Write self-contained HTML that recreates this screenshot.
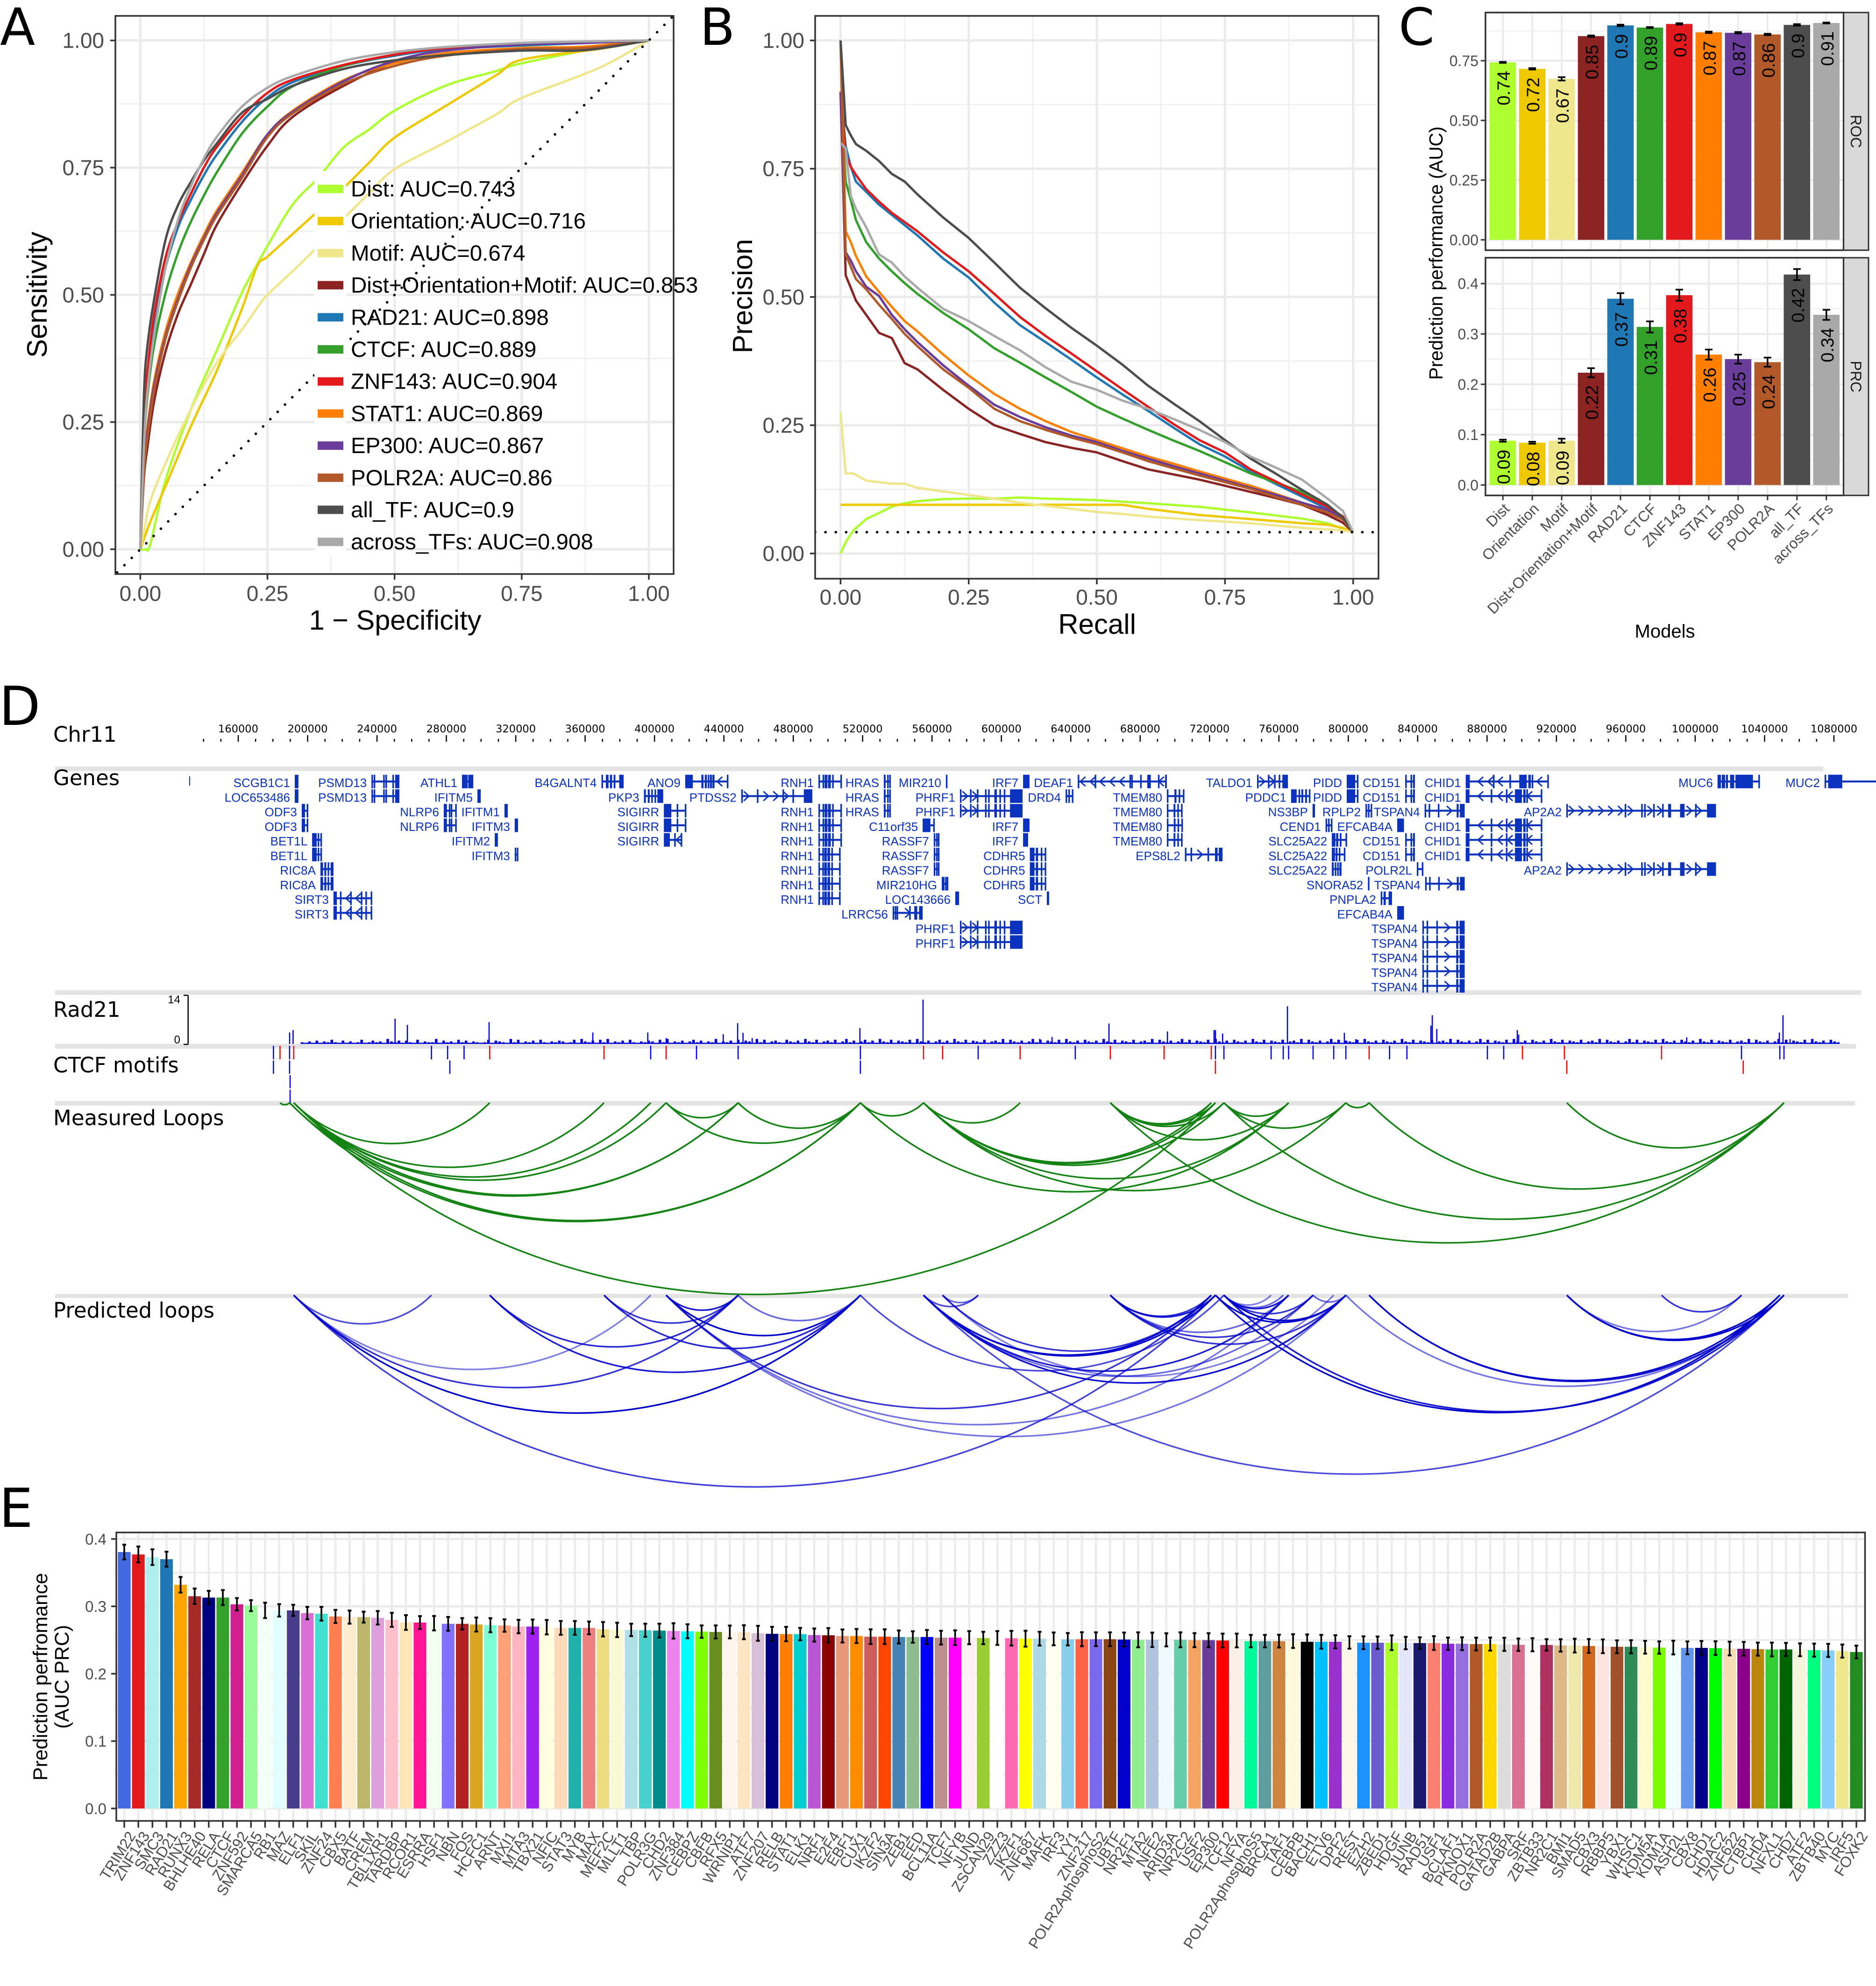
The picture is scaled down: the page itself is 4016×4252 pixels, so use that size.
<!DOCTYPE html>
<html lang="en">
<head>
<meta charset="utf-8">
<title>Chromatin loop prediction performance figure</title>
<style>
html,body{margin:0;padding:0;background:#fff}
svg{display:block}
text{font-family:"Liberation Sans",sans-serif}
.dj{font-family:"DejaVu Sans",sans-serif}
</style>
</head>
<body>
<svg id="fig" xmlns="http://www.w3.org/2000/svg" width="4016" height="4252" viewBox="0 0 4016 4252">
<defs>
<clipPath id="clipA"><rect x="247" y="34" width="1195" height="1195"/></clipPath>
<clipPath id="clipB"><rect x="1745" y="34" width="1206" height="1205"/></clipPath>
</defs>
<rect x="0" y="0" width="4016" height="4252" fill="#fff"/>
<g id="panelA"></g>
<g id="panelB"></g>
<g id="panelC"></g>
<g id="panelD"></g>
<g id="panelE"></g>
<text class="dj" x="0" y="96" font-size="110">A</text>
<text class="dj" x="1498" y="96" font-size="110">B</text>
<text class="dj" x="2994" y="96" font-size="110">C</text>
<text class="dj" x="-2" y="1552" font-size="115">D</text>
<text class="dj" x="-2" y="3269" font-size="115">E</text>
</svg>
<script>
/* ===== shared model data ===== */
const modelNames = ["Dist","Orientation","Motif","Dist+Orientation+Motif","RAD21","CTCF","ZNF143","STAT1","EP300","POLR2A","all_TF","across_TFs"];
const modelColors = ["#ADFF2F","#EEC900","#F0E68C","#8B2323","#1F78B4","#33A02C","#E31A1C","#FF7F00","#6A3D9A","#B15928","#4D4D4D","#A9A9A9"];
const rocAuc = ["0.743","0.716","0.674","0.853","0.898","0.889","0.904","0.869","0.867","0.86","0.9","0.908"];
const axisTicks = [0,0.25,0.5,0.75,1];
const axisMinorTicks = [0.125,0.375,0.625,0.875];

/* ===== Panel A: ROC ===== */
const rocFprBase = [0,.01,.02,.05,.1,.15,.2,.23,.25,.3,.35,.4,.45,.5,.6,.7,.75,.9,1];
const rocFprTf = [0,.007,.014,.027,.05,.075,.1,.125,.15,.2,.25,.3,.4,.5,.6,.75,.875,1];
const rocDist = [0,0,.011,.137,.276,.39,.505,.56,.596,.678,.73,.79,.825,.862,.911,.94,.955,.985,1];
const rocOrientation = [0,.028,.055,.125,.243,.35,.473,.557,.575,.62,.665,.71,.76,.809,.871,.932,.962,.983,1];
const rocMotif = [0,.05,.096,.17,.276,.366,.432,.475,.50,.547,.596,.65,.70,.747,.80,.855,.887,.945,1];
const rocCombined = [0,.14,.2,.29,.39,.465,.522,.58,.637,.719,.793,.85,.911,.956,.972,.983,.985,1];
const rocRad21 = [0,.22,.33,.44,.555,.635,.688,.735,.775,.84,.888,.918,.95,.97,.983,.99,.995,1];
const rocCtcf = [0,.2,.3,.4,.505,.585,.645,.695,.74,.817,.87,.91,.95,.972,.985,.992,.996,1];
const rocZnf143 = [0,.25,.35,.46,.575,.645,.7,.75,.79,.85,.897,.923,.952,.972,.985,.993,.996,1];
const rocStat1 = [0,.16,.24,.33,.43,.505,.565,.618,.665,.74,.815,.862,.922,.955,.975,.985,.988,1];
const rocEp300 = [0,.16,.23,.32,.42,.495,.56,.612,.66,.735,.815,.86,.92,.96,.98,.992,.995,1];
const rocPolr2a = [0,.15,.22,.31,.415,.49,.555,.608,.655,.73,.81,.857,.915,.95,.97,.983,.985,1];
const rocAllTf = [0,.30,.4,.49,.61,.678,.723,.764,.797,.858,.885,.911,.944,.961,.971,.98,.981,1];
const rocAcross = [0,.2,.31,.42,.555,.65,.715,.768,.81,.87,.907,.93,.96,.977,.987,.995,.998,1];
const rocSeries = [[rocFprBase,rocDist],[rocFprBase,rocOrientation],[rocFprBase,rocMotif],[rocFprTf,rocCombined],[rocFprTf,rocRad21],[rocFprTf,rocCtcf],[rocFprTf,rocZnf143],[rocFprTf,rocStat1],[rocFprTf,rocEp300],[rocFprTf,rocPolr2a],[rocFprTf,rocAllTf],[rocFprTf,rocAcross]];

/* ===== Panel B: precision-recall ===== */
const prRecallBase = [0,.01,.025,.05,.1,.125,.15,.2,.25,.3,.35,.4,.5,.55,.6,.7,.8,.9,.95,.98,1];
const prRecallTf = [0,.01,.02,.03,.05,.075,.1,.125,.15,.2,.25,.3,.35,.4,.45,.5,.55,.6,.65,.7,.75,.8,.85,.9,.95,.98,1];
const prDist = [0,.022,.045,.067,.091,.098,.102,.106,.107,.107,.109,.107,.104,.101,.098,.091,.08,.068,.059,.048,.0415];
const prOrientation = [.095,.095,.095,.095,.095,.095,.095,.095,.095,.095,.095,.095,.095,.095,.087,.075,.067,.059,.056,.05,.0415];
const prMotif = [.275,.156,.156,.142,.136,.136,.128,.121,.114,.107,.099,.093,.081,.077,.072,.065,.059,.05,.047,.045,.0415];
const prCombined = [.9,.542,.518,.493,.465,.43,.42,.371,.359,.319,.282,.25,.233,.217,.206,.197,.18,.164,.154,.144,.132,.12,.108,.095,.075,.06,.0415];
const prRad21 = [.9,.794,.754,.725,.705,.68,.66,.64,.62,.575,.538,.489,.445,.412,.378,.343,.31,.278,.245,.213,.189,.16,.135,.111,.087,.07,.0415];
const prCtcf = [.9,.725,.689,.65,.607,.575,.55,.527,.506,.469,.437,.40,.372,.343,.315,.286,.263,.241,.22,.20,.178,.156,.138,.12,.091,.07,.0415];
const prZnf143 = [.9,.778,.754,.738,.71,.686,.664,.646,.628,.587,.55,.506,.461,.424,.39,.355,.32,.286,.252,.221,.197,.164,.14,.115,.091,.072,.0415];
const prStat1 = [1,.628,.607,.58,.54,.51,.481,.453,.433,.388,.347,.311,.282,.258,.237,.221,.205,.189,.175,.16,.146,.132,.116,.099,.083,.068,.0415];
const prEp300 = [.9,.587,.571,.55,.52,.502,.465,.437,.412,.367,.327,.29,.266,.246,.23,.217,.2,.185,.17,.156,.142,.128,.114,.099,.085,.068,.0415];
const prPolr2a = [1,.583,.559,.535,.515,.485,.457,.428,.404,.359,.323,.282,.258,.241,.226,.213,.197,.18,.166,.152,.139,.126,.11,.095,.08,.066,.0415];
const prAllTf = [1,.835,.815,.798,.785,.765,.74,.725,.70,.655,.615,.567,.518,.478,.44,.405,.368,.327,.292,.258,.221,.185,.155,.124,.095,.07,.0415];
const prAcross = [.8,.79,.697,.672,.636,.583,.567,.54,.518,.477,.453,.424,.396,.363,.335,.319,.298,.282,.262,.241,.217,.189,.167,.144,.107,.083,.0415];
const prSeries = [[prRecallBase,prDist],[prRecallBase,prOrientation],[prRecallBase,prMotif],[prRecallTf,prCombined],[prRecallTf,prRad21],[prRecallTf,prCtcf],[prRecallTf,prZnf143],[prRecallTf,prStat1],[prRecallTf,prEp300],[prRecallTf,prPolr2a],[prRecallTf,prAllTf],[prRecallTf,prAcross]];
const prBaseline = 0.0415;

/* ===== Panel C ===== */
const cRocValues = [.743,.716,.674,.853,.898,.889,.904,.869,.867,.86,.9,.908];
const cRocErrors = [.002,.003,.007,.003,.003,.002,.003,.003,.003,.003,.003,.002];
const cPrcValues = [.088,.084,.088,.223,.37,.314,.377,.259,.25,.244,.418,.338];
const cPrcErrors = [.002,.002,.004,.009,.011,.011,.011,.01,.009,.009,.011,.01];
const cRocTicks = [0,.25,.5,.75];
const cRocMinor = [.125,.375,.625,.875];
const cPrcTicks = [0,.1,.2,.3,.4];
const cPrcMinor = [.05,.15,.25,.35];

/* ===== Panel E ===== */
const tfNames = ["TRIM22","ZNF143","SMC3","RAD21","RUNX3","BHLHE40","RELA","CTCF","ZNF592","SMARCA5","RB1","MAZ","ELF1","SKIL","ZNF24","CBX5","BATF","CREM","TBL1XR1","TARDBP","RCOR1","ESRRA","HSF1","NBN","FOS","HCFC1","ARNT","MXI1","MTA3","TBX21","NFIC","STAT3","MYB","MAX","MEF2C","MLLT1","TBP","POLR3G","CHD2","ZNF384","CEBPZ","CBFB","RFX5","WRNIP1","ATF7","ZNF207","RELB","STAT1","ELK1","NRF1","E2F4","EBF1","CUX1","IKZF2","SIN3A","ZEB1","EED","BCL11A","TCF7","NFYB","JUND","ZSCAN29","ZZZ3","IKZF1","ZNF687","MAFK","IRF3","YY1","ZNF217","POLR2AphosphoS2","UBTF","NR2F1","MTA2","NFE2","ARID3A","NR2C2","USF2","EP300","TCF12","NFYA","POLR2AphosphoS5","BRCA1","TAF1","CEBPB","BACH1","ETV6","DPF2","REST","EZH2","ZBED1","HDGF","JUNB","RAD51","USF1","BCLAF1","PKNOX1","POLR2A","GATAD2B","GABPA","SRF","ZBTB33","NR2C1","BMI1","SMAD5","CBX3","RBBP5","YBX1","WHSC1","KDM5A","KDM1A","ASH2L","CBX8","CHD1","HDAC2","ZNF622","CTBP1","CHD4","NFXL1","CHD7","ATF2","ZBTB40","MYC","IRF5","FOXK2"];
const tfValues = [.3806,.377,.373,.37,.332,.315,.313,.313,.303,.301,.294,.294,.294,.29,.289,.285,.284,.284,.283,.28,.276,.276,.275,.274,.274,.273,.272,.2715,.27,.27,.269,.268,.268,.268,.266,.265,.265,.2645,.264,.2635,.263,.2625,.262,.262,.2616,.26,.2592,.2588,.2588,.2574,.257,.256,.256,.255,.255,.2545,.2545,.2545,.2535,.2535,.2535,.253,.253,.2527,.252,.252,.2517,.2512,.2512,.2512,.2512,.2507,.2503,.2503,.2503,.2503,.2498,.2498,.2493,.2493,.2484,.2484,.2484,.2484,.2474,.2474,.2474,.2464,.246,.246,.246,.2455,.2455,.2455,.2445,.2445,.244,.244,.2436,.243,.243,.2427,.242,.2417,.2412,.2407,.24,.24,.2393,.2388,.2388,.2384,.2384,.238,.2374,.237,.2365,.236,.236,.2355,.235,.2346,.2336,.2322];
const tfErrors = [.0109,.0118,.0116,.0111,.0116,.0114,.01,.0111,.0092,.0081,.0114,.0092,.0083,.0092,.0102,.0097,.0097,.0081,.01,.0104,.0109,.0095,.0107,.0102,.0085,.0104,.0104,.0092,.01,.0104,.0107,.0102,.0102,.0095,.0107,.0107,.0092,.0097,.0102,.0114,.0104,.0092,.0097,.0095,.0104,.0111,.0104,.0107,.0092,.0097,.0107,.0097,.0104,.0109,.0109,.0097,.0085,.0104,.0102,.0109,.0097,.0092,.0102,.0109,.0118,.0102,.0095,.0092,.0104,.0102,.0102,.0104,.0111,.0107,.0097,.0111,.0104,.0104,.0102,.0102,.0092,.0092,.0095,.0102,.0109,.0102,.0097,.0092,.0095,.0092,.0109,.0092,.0085,.0102,.0092,.0095,.0095,.0097,.0097,.0092,.0097,.0085,.0092,.0102,.0102,.0102,.0095,.0097,.0095,.0092,.0102,.0095,.0102,.0102,.0102,.0102,.0097,.0102,.0097,.0095,.0097,.0097,.0097,.0095];
const tfColors = ["#4169E1","#E31A1C","#AFEEEE","#1F78B4","#FFA500","#A52A2A","#000080","#33A02C","#D02090","#98FB98","#F5FFFA","#E0FFFF","#483D8B","#DA70D6","#40E0D0","#FF7F50","#FFEBCD","#BDB76B","#DDA0DD","#FFC0CB","#FFE4B5","#FF1493","#F0FFF0","#8470FF","#B22222","#DAA520","#7FFFD4","#FFA07A","#FFB6C1","#A020F0","#FFFFE0","#FFDAB9","#20B2AA","#F08080","#EEDC82","#FAFAD2","#B0E0E6","#48D1CC","#008B8B","#EE82EE","#00FFFF","#7FFF00","#6B8E23","#FFF5EE","#FFE4C4","#D8BFD8","#000080","#FF7F00","#00CED1","#BA55D3","#8B0000","#E9967A","#FF8C00","#CD5C5C","#FF4500","#4682B4","#8FBC8F","#0000FF","#BC8F8F","#FF00FF","#FFF0F5","#9ACD32","#FFFFFF","#FF69B4","#FFFF00","#ADD8E6","#FFFFF0","#87CEEB","#FF6347","#7B68EE","#8B4513","#0000CD","#90EE90","#B0C4DE","#F0F8FF","#66CDAA","#F4A460","#6A3D9A","#FF0000","#FAF0E6","#00FA9A","#5F9EA0","#CD853F","#FFF8DC","#000000","#00BFFF","#9932CC","#FDF5E6","#1E90FF","#6A5ACD","#ADFF2F","#E6E6FA","#191970","#FA8072","#8A2BE2","#9370DB","#B15928","#FFD700","#DCDCDC","#DB7093","#FFFAFA","#B03060","#DEB887","#EEE8AA","#D2691E","#FFE4E1","#A0522D","#2E8B57","#FFFACD","#7CFC00","#F0FFFF","#6495ED","#00008B","#00FF00","#F5DEB3","#8B008B","#B8860B","#32CD32","#006400","#F5F5DC","#00FF7F","#87CEFA","#F0E68C","#228B22"];
const eTicks = [0,.1,.2,.3,.4];
const eMinor = [.05,.15,.25,.35];

/* ===== Panel D (positions in kb on chr11) ===== */
const rulerMajor = [160,200,240,280,320,360,400,440,480,520,560,600,640,680,720,760,800,840,880,920,960,1000,1040,1080];
const exonPatterns = {
 solid:[[0,1]],
 SIRT3:[[0,.09],[.17,.03],[.44,.03],[.72,.03],[.84,.03],[.98,.02]],
 PSMD13:[[0,.03],[.08,.03],[.42,.05],[.5,.04],[.75,.05],[.85,.15]],
 B4GALNT4:[[0,.03],[.2,.12],[.38,.1],[.55,.08],[.8,.2]],
 PKP3:[[0,.1],[.2,.1],[.38,.08],[.55,.08],[.7,.3]],
 SIGIRR:[[0,.35],[.6,.03],[.98,.02]],
 ANO9:[[0,.18],[.38,.05],[.46,.05],[.53,.03],[.58,.05],[.64,.05],[.98,.02]],
 PTDSS2:[[0,.01],[.22,.01],[.58,.01],[.72,.01],[.88,.12]],
 RNH1:[[0,.03],[.18,.05],[.27,.12],[.42,.12],[.6,.05],[.96,.04]],
 HRAS:[[0,.3],[.55,.15],[.9,.1]],
 PHRF1:[[0,.015],[.16,.01],[.27,.01],[.4,.015],[.45,.015],[.55,.04],[.63,.015],[.7,.02],[.8,.2]],
 DEAF1:[[0,.01],[.19,.01],[.58,.01],[.6,.015],[.7,.015],[.78,.04],[.9,.01],[.98,.02]],
 TMEM80:[[0,.08],[.45,.12],[.7,.08],[.95,.05]],
 EPS8L2:[[0,.03],[.15,.03],[.6,.03],[.8,.07],[.9,.1]],
 TALDO1:[[0,.02],[.35,.03],[.55,.03],[.7,.05],[.82,.18]],
 PDDC1:[[0,.3],[.4,.05],[.55,.1],[.75,.1],[.95,.05]],
 SLC25A22:[[0,.25],[.3,.15],[.55,.12],[.95,.05]],
 CD151:[[0,.03],[.55,.1],[.8,.2]],
 TSPAN4:[[0,.02],[.1,.02],[.33,.02],[.8,.05],[.88,.12]],
 CHID1:[[0,.05],[.33,.02],[.53,.02],[.65,.09],[.72,.02],[.76,.03],[.8,.02],[.99,.01]],
 AP2A2:[[0,.005],[.39,.005],[.5,.01],[.52,.005],[.58,.005],[.64,.01],[.68,.02],[.76,.03],[.86,.01],[.94,.06]],
 MUC6:[[0,.08],[.1,.08],[.2,.05],[.3,.1],[.43,.42],[.98,.02]],
 MUC2:[[0,.05],[.2,.8]],
 LRRC56:[[0,.05],[.07,.03],[.13,.03],[.55,.03],[.72,.1],[.88,.12]],
 CDHR5:[[0,.3],[.38,.15],[.7,.05],[.95,.05]],
 NLRP6:[[0,.25],[.4,.05],[.55,.1],[.9,.1]],
 RIC8A:[[0,.2],[.3,.15],[.55,.12],[.78,.22]],
 ODF3:[[0,.5],[.75,.25]],
 BET1L:[[0,.5],[.6,.15],[.9,.1]],
 SMALL3:[[0,.15],[.4,.2],[.85,.15]],
 PIDD:[[0,.75],[.9,.1]],
 ATHL1:[[0,.5],[.55,.3],[.85,.15]],
 PNPLA2:[[0,.1],[.25,.2],[.7,.3]],
 POLR2L:[[0,.2],[.9,.1]],
 DRD4:[[0,.1],[.4,.2],[.9,.1]],
 RASSF7:[[0,.3],[.45,.15],[.8,.2]],
 C11ORF35:[[0,.7],[.95,.05]]
};
const genes = [
["SCGB1C1",0,192.6,194.7,0,"solid"],["LOC653486",1,192.6,194.7,0,"solid"],
["ODF3",2,196.6,200.4,0,"ODF3"],["ODF3",3,196.6,200.4,0,"ODF3"],
["BET1L",4,202.6,207.9,0,"BET1L"],["BET1L",5,202.6,207.9,0,"BET1L"],
["RIC8A",6,207.4,214.9,0,"RIC8A"],["RIC8A",7,207.4,214.9,0,"RIC8A"],
["SIRT3",8,214.9,236.8,-1,"SIRT3"],["SIRT3",9,214.9,236.8,-1,"SIRT3"],
["PSMD13",0,236.8,252.9,1,"PSMD13"],["PSMD13",1,236.8,252.9,1,"PSMD13"],
["ATHL1",0,289,295.5,0,"ATHL1"],["IFITM5",1,297.9,299.8,0,"solid"],
["NLRP6",2,278.5,285.8,1,"NLRP6"],["NLRP6",3,278.5,285.8,1,"NLRP6"],
["IFITM1",2,313.5,315.4,0,"solid"],["IFITM3",3,319.4,321.3,0,"solid"],
["IFITM2",4,307.9,309.7,0,"solid"],["IFITM3",5,319.4,321,0,"ODF3"],
["B4GALNT4",0,369.4,382.2,1,"B4GALNT4"],["PKP3",1,393.9,405,1,"PKP3"],
["SIGIRR",2,405.4,417.7,-1,"SIGIRR"],["SIGIRR",3,405.4,417.7,-1,"SIGIRR"],["SIGIRR",4,405.4,415.3,-1,"SIGIRR"],
["ANO9",0,417.7,442.2,-1,"ANO9"],["PTDSS2",1,450,491,1,"PTDSS2"],
["RNH1",0,494.5,507.7,-1,"RNH1"],["RNH1",2,494.5,507.7,-1,"RNH1"],["RNH1",3,494.5,507.7,-1,"RNH1"],["RNH1",4,494.5,507.7,-1,"RNH1"],["RNH1",5,494.5,506.9,-1,"RNH1"],["RNH1",6,494.5,506.9,-1,"RNH1"],["RNH1",7,494.5,506.9,-1,"RNH1"],["RNH1",8,494.5,506.9,-1,"RNH1"],
["HRAS",0,532.2,535.7,0,"HRAS"],["HRAS",1,532.2,535.7,0,"HRAS"],["HRAS",2,532.2,535.7,0,"HRAS"],
["MIR210",0,568,568.5,0,"solid"],["C11orf35",3,554.6,561,0,"C11ORF35"],
["RASSF7",4,561,564,0,"RASSF7"],["RASSF7",5,561,564,0,"RASSF7"],["RASSF7",6,561,564,0,"RASSF7"],
["MIR210HG",7,565.6,568.8,0,"BET1L"],["LOC143666",8,573.4,575.6,0,"solid"],["LRRC56",9,537.3,554.6,1,"LRRC56"],
["PHRF1",1,576.1,612.2,1,"PHRF1"],["PHRF1",2,576.1,612.2,1,"PHRF1"],["PHRF1",10,576.1,612.2,1,"PHRF1"],["PHRF1",11,576.1,612.2,1,"PHRF1"],
["IRF7",0,612.5,616.2,0,"solid"],["IRF7",3,612.5,616.2,0,"solid"],["IRF7",4,612.5,615.4,0,"solid"],
["DEAF1",0,644,695.4,-1,"DEAF1"],["DRD4",1,637,641,0,"DRD4"],
["CDHR5",5,616.4,625.4,0,"CDHR5"],["CDHR5",6,616.4,625.4,0,"CDHR5"],["CDHR5",7,616.4,625.4,0,"CDHR5"],
["SCT",8,626.2,627.5,0,"solid"],
["TMEM80",1,695.4,705.1,0,"TMEM80"],["TMEM80",2,695.4,704,0,"TMEM80"],["TMEM80",3,695.4,704.2,0,"TMEM80"],["TMEM80",4,695.4,704,0,"TMEM80"],
["EPS8L2",5,705.8,727.5,1,"EPS8L2"],["TALDO1",0,747.4,765.2,1,"TALDO1"],["PDDC1",1,767,777.8,-1,"PDDC1"],
["NS3BP",2,779.4,780.8,0,"solid"],["CEND1",3,786.9,790.5,0,"SMALL3"],
["SLC25A22",4,790.5,798.8,-1,"SLC25A22"],["SLC25A22",5,790.5,797.8,-1,"SLC25A22"],["SLC25A22",6,790.5,796.1,0,"RIC8A"],
["SNORA52",7,811.3,811.7,0,"solid"],["PNPLA2",8,818.7,825.2,0,"PNPLA2"],
["EFCAB4A",9,828.2,832.1,0,"solid"],["EFCAB4A",3,828.2,832.1,0,"solid"],
["PIDD",0,799.1,805.6,0,"PIDD"],["PIDD",1,799.1,805.6,0,"PIDD"],["RPLP2",2,809.9,813.4,0,"SMALL3"],
["CD151",0,832.8,838.4,1,"CD151"],["CD151",1,832.8,838.4,1,"CD151"],["CD151",4,832.8,838.4,1,"CD151"],["CD151",5,832.8,838.4,1,"CD151"],
["POLR2L",6,839.5,842.7,0,"POLR2L"],
["TSPAN4",2,844,867.1,1,"TSPAN4"],["TSPAN4",7,844.3,867.1,1,"TSPAN4"],["TSPAN4",10,842.7,867.1,1,"TSPAN4"],["TSPAN4",11,842.7,867.1,1,"TSPAN4"],["TSPAN4",12,842.7,867.1,1,"TSPAN4"],["TSPAN4",13,842.7,867.1,1,"TSPAN4"],["TSPAN4",14,842.7,867.1,1,"TSPAN4"],
["CHID1",0,867.7,915.2,-1,"CHID1"],["CHID1",1,867.7,911.4,-1,"CHID1"],["CHID1",3,867.7,911.4,-1,"CHID1"],["CHID1",4,867.7,911.4,-1,"CHID1"],["CHID1",5,867.7,911.4,-1,"CHID1"],
["AP2A2",2,925.7,1012,1,"AP2A2"],["AP2A2",6,925.7,1012,1,"AP2A2"],
["MUC6",0,1012.9,1036.9,-1,"MUC6"],["MUC2",0,1074.6,1084.8,0,"MUC2"]
];
const rad21PeakKb = [189.6,191.6,250.4,257.5,304.6,364.4,396.1,406.7,439.6,447.9,451,456.3,518.4,554.8,622.1,629.2,662,695.7,722.6,723.4,727.5,764.9,797.7,804.3,847.6,848.4,851,897.4,898.2,995.1,1048.5,1050.6,1054.7];
const rad21PeakSignal = [3.3,4,7.3,5.5,6.3,3.3,3.3,1.7,2.8,6,3.2,1.7,4.6,12.8,1.5,2,5.9,3.6,4,4,3,10.9,3.2,1.4,5.3,8.3,4.3,4,2.7,1.9,3.3,8.3,1.4];
const rad21NoiseDigits = "21314132521413125124231632414215132261423152413212514321625132415213243125163241526132415213243152613241352413261324152431625134215324163251342513624135241632514325163241352416325143251342615324136251432516324153241632514325134261532413625143251632415324163251432513426153241362514325163241532416325143251342615324136251432516324153241632514325134261532413625143251632415324163251432513426153241362514325163241532416325143";
const ctcfRow1BlueKb = [180.3,189.6,271.4,280.7,290.2,397.8,424.2,448.2,518.7,586.6,642.6,723.4,728.3,755.5,762.5,765.6,779.7,791.6,798.6,823.8,833.8,880.2,889.6,1026.7,1048.8,1051.2];
const ctcfRow1RedKb = [184.1,192,305,370.9,406.7,555.1,566.1,610.8,662.8,693.8,721,812,900.4,924.6,980.6];
const ctcfRow2BlueKb = [180.3,189.6,282,518.7];
const ctcfRow2RedKb = [723.4,926,1027.7];
const ctcfRow3BlueKb = [189.9];
const ctcfRow4BlueKb = [189.9];
const measuredLoopStart = [184.1,192,192,192,192,192,189.6,192,189.6,192,406.7,406.7,448.2,518.7,555.1,555.1,555.1,555.1,555.1,518.7,555.1,662.8,662.8,662.8,662.8,728.3,728.3,728.3,662.8,798.6,812,926];
const measuredLoopEnd = [189.6,305,370.9,397.8,406.7,448.2,448.2,518.7,518.7,723.4,448.2,518.7,518.7,555.1,610.8,721,723.4,728.3,765.6,765.6,798.6,721,723.4,728.3,765.6,765.6,798.6,1051.2,1051.2,812,1051.2,1051.2];
const predictedLoopStart = [192,192,192,192,192,305,305,370.9,370.9,406.7,406.7,448.2,406.7,406.7,406.7,518.7,555.1,566.1,555.1,555.1,566.1,555.1,555.1,555.1,566.1,555.1,662.8,662.8,662.8,662.8,662.8,728.3,728.3,728.3,728.3,728.3,723.4,779.7,723.4,728.3,798.6,812,812,926,926,926,980.6];
const predictedLoopEnd = [271.4,397.8,448.2,518.7,723.4,448.2,518.7,448.2,518.7,448.2,518.7,518.7,721,765.6,798.6,728.3,586.6,586.6,721,723.4,721,765.6,779.7,798.6,791.6,1051.2,723.4,721,765.6,779.7,798.6,755.5,762.5,765.6,779.7,798.6,798.6,798.6,1048.8,1051.2,1051.2,1048.8,1051.2,1048.8,1051.2,1026.7,1026.7];
const predictedLoopScore = [.7,.5,.8,1,.75,.85,.9,.8,.85,.9,1,.6,.8,.55,.55,.7,.7,.6,1,1,.8,.9,.6,.95,.5,.7,.9,.8,.6,.8,.8,.5,.6,.9,.8,1,1,.6,1,.9,.55,1,.9,1,1,.55,.8];

/* ===== drawing helpers ===== */
const NS = 'http://www.w3.org/2000/svg';
function make(parent, tag, attrs, content){
  const node = document.createElementNS(NS, tag);
  for (const k in attrs) node.setAttribute(k, attrs[k]);
  if (content !== undefined) node.textContent = content;
  parent.appendChild(node);
  return node;
}
function ln(p, x1, y1, x2, y2, stroke, w, name){
  const e = make(p, 'line', {x1, y1, x2, y2, stroke, 'stroke-width': w});
  
  
  return e;
}
function rc(p, x, y, w, h, fill, name){
  const e = make(p, 'rect', {x, y, width: w, height: h, fill});
  
  
  return e;
}
function tx(p, x, y, s, size, fill, anchor, name, transform){
  const a = {x, y, 'font-size': size, fill, 'text-anchor': anchor};
  if (transform) a.transform = transform;
  const e = make(p, 'text', a, s);
  
  
  return e;
}
function frame(p, x, y, w, h, name){
  const e = make(p, 'rect', {x, y, width: w, height: h, fill: 'none', stroke: '#333333', 'stroke-width': 3.5});
  
  
  return e;
}
function smoothPath(pts){
  let d = 'M' + pts[0][0].toFixed(1) + ' ' + pts[0][1].toFixed(1);
  for (let i = 0; i < pts.length - 1; i++){
    const p0 = pts[Math.max(i - 1, 0)], p1 = pts[i], p2 = pts[i + 1], p3 = pts[Math.min(i + 2, pts.length - 1)];
    const c1x = p1[0] + (p2[0] - p0[0]) / 6, c1y = p1[1] + (p2[1] - p0[1]) / 6;
    const c2x = p2[0] - (p3[0] - p1[0]) / 6, c2y = p2[1] - (p3[1] - p1[1]) / 6;
    d += 'C' + c1x.toFixed(1) + ' ' + c1y.toFixed(1) + ' ' + c2x.toFixed(1) + ' ' + c2y.toFixed(1) + ' ' + p2[0].toFixed(1) + ' ' + p2[1].toFixed(1);
  }
  return d;
}
function straightPath(pts){
  return pts.map((q, i) => (i ? 'L' : 'M') + q[0].toFixed(1) + ' ' + q[1].toFixed(1)).join('');
}
function arcPath(x1, x2, y0, depthRatio){
  const half = (x2 - x1) / 2, depth = depthRatio * (x2 - x1);
  const r = (half * half + depth * depth) / (2 * depth);
  return 'M' + x1.toFixed(1) + ' ' + y0 + 'A' + r.toFixed(1) + ' ' + r.toFixed(1) + ' 0 0 0 ' + x2.toFixed(1) + ' ' + y0;
}

/* ===== curve panels (A, B) ===== */
function curveGrid(p, fx, fy, left, right, top, bottom){
  axisMinorTicks.forEach(t => {
    ln(p, fx(t), top, fx(t), bottom, '#EFEFEF', 2.5, 'minor-gridline-x');
    ln(p, left, fy(t), right, fy(t), '#EFEFEF', 2.5, 'minor-gridline-y');
  });
  axisTicks.forEach(t => {
    ln(p, fx(t), top, fx(t), bottom, '#EBEBEB', 5, 'major-gridline-x');
    ln(p, left, fy(t), right, fy(t), '#EBEBEB', 5, 'major-gridline-y');
  });
}
function curveAxes(p, fx, fy, left, bottom, labelRight, labelY){
  axisTicks.forEach(t => {
    const s = t.toFixed(2);
    ln(p, fx(t), bottom, fx(t), bottom + 12, '#333333', 3.5, 'x-axis-tick');
    ln(p, left - 11, fy(t), left, fy(t), '#333333', 3.5, 'y-axis-tick');
    tx(p, fx(t), labelY + 16, s, 46, '#4D4D4D', 'middle', 'x-tick-label');
    tx(p, labelRight, fy(t) + 16, s, 46, '#4D4D4D', 'end', 'y-tick-label');
  });
}

/* Panel A */
const aX = v => 300.4 + v * 1088.6;
const aY = v => 1176 - v * 1089.4;
(function(){
  const p = document.getElementById('panelA');
  curveGrid(p, aX, aY, 247, 1442, 34, 1229);
  rocSeries.forEach((s, i) => {
    const pts = s[0].map((x, j) => [aX(x), aY(s[1][j])]);
    const e = make(p, 'path', {d: smoothPath(pts), fill: 'none', stroke: modelColors[i], 'stroke-width': 5, 'stroke-linejoin': 'round'});
    
    
  });
  const diag = make(p, 'line', {x1: aX(-0.06), y1: aY(-0.06), x2: aX(1.06), y2: aY(1.06), stroke: '#000', 'stroke-width': 5.5, 'stroke-linecap': 'round', 'stroke-dasharray': '0.1 22', 'clip-path': 'url(#clipA)'});
  
  
  rc(p, 673, 366, 68, 826, '#FFFFFF', 'legend-key-background');
  modelNames.forEach((n, i) => {
    const cy = 404.5 + i * 68.7;
    rc(p, 680, cy - 9, 55, 18, modelColors[i], 'legend-key-' + n);
    tx(p, 751, cy + 16, n + ': AUC=' + rocAuc[i], 47.5, '#000', 'start', 'legend-entry-' + n);
  });
  frame(p, 247, 34, 1195, 1195, 'roc-panel-border');
  curveAxes(p, aX, aY, 247, 1229, 223, 1270.5);
  tx(p, 100, 631, 'Sensitivity', 60, '#000', 'middle', 'y-axis-title', 'rotate(-90 100 631)');
  tx(p, 846, 1348, '1 \u2212 Specificity', 59.5, '#000', 'middle', 'x-axis-title');
})();

/* Panel B */
const bX = v => 1799.4 + v * 1097.3;
const bY = v => 1185 - v * 1098.4;
(function(){
  const p = document.getElementById('panelB');
  curveGrid(p, bX, bY, 1745, 2951, 34, 1239);
  prSeries.forEach((s, i) => {
    const pts = s[0].map((x, j) => [bX(x), bY(s[1][j])]);
    const e = make(p, 'path', {d: straightPath(pts), fill: 'none', stroke: modelColors[i], 'stroke-width': 5, 'stroke-linejoin': 'round'});
    
    
  });
  const base = make(p, 'line', {x1: 1745, y1: bY(prBaseline), x2: 2951, y2: bY(prBaseline), stroke: '#000', 'stroke-width': 5.5, 'stroke-linecap': 'round', 'stroke-dasharray': '0.1 22', 'clip-path': 'url(#clipB)'});
  
  
  frame(p, 1745, 34, 1206, 1205, 'pr-panel-border');
  curveAxes(p, bX, bY, 1745, 1239, 1722, 1278.6);
  tx(p, 1610, 634, 'Precision', 59.5, '#000', 'middle', 'y-axis-title', 'rotate(-90 1610 634)');
  tx(p, 2348.6, 1357, 'Recall', 60, '#000', 'middle', 'x-axis-title');
})();

/* Panel C */
const cX = i => 3217.2 + i * 62.96;
const cRocY = v => 513.4 - v * 511.2;
const cPrcY = v => 1038.4 - v * 1078;
function facet(p, fy, values, errors, ticks, minor, top, bottom, strip, fmt){
  minor.forEach(t => ln(p, 3180, fy(t), 3946.6, fy(t), '#EFEFEF', 2.2, 'minor-gridline-y'));
  ticks.forEach(t => ln(p, 3180, fy(t), 3946.6, fy(t), '#EBEBEB', 4, 'major-gridline-y'));
  values.forEach((v, i) => ln(p, cX(i), top, cX(i), bottom, '#EBEBEB', 4, 'major-gridline-x'));
  values.forEach((v, i) => {
    rc(p, cX(i) - 28.3, fy(v), 56.6, fy(0) - fy(v), modelColors[i], 'bar-' + strip + '-' + modelNames[i]);
  });
  values.forEach((v, i) => {
    const x = cX(i), hi = fy(v + errors[i]), lo = fy(v - errors[i]);
    ln(p, x, hi, x, lo, '#000', 3.5, 'error-bar-stem');
    ln(p, x - 8, hi, x + 8, hi, '#000', 3.5, 'error-bar-cap');
    ln(p, x - 8, lo, x + 8, lo, '#000', 3.5, 'error-bar-cap');
    const lx = x + 15, ly = lo + 17;
    tx(p, lx, ly, String(Number(v.toFixed(2))), 38, '#000', 'end', 'bar-value-label', 'rotate(-90 ' + lx + ' ' + ly + ')');
  });
  frame(p, 3180, top, 766.6, bottom - top, 'facet-border-' + strip);
  const st = make(p, 'rect', {x: 3946.6, y: top, width: 53.4, height: bottom - top, fill: '#D9D9D9', stroke: '#333333', 'stroke-width': 3});
  
  
  const sy = (top + bottom) / 2;
  tx(p, 3962, sy, strip, 32, '#1A1A1A', 'middle', 'facet-strip-label-' + strip, 'rotate(90 3962 ' + sy + ')');
  ticks.forEach(t => {
    ln(p, 3170, fy(t), 3180, fy(t), '#333333', 3, 'y-axis-tick');
    tx(p, 3165, fy(t) + 11.5, fmt(t), 32, '#4D4D4D', 'end', 'y-tick-label');
  });
}
(function(){
  const p = document.getElementById('panelC');
  facet(p, cRocY, cRocValues, cRocErrors, cRocTicks, cRocMinor, 26.8, 535.7, 'ROC', t => t.toFixed(2));
  facet(p, cPrcY, cPrcValues, cPrcErrors, cPrcTicks, cPrcMinor, 551.8, 1060.7, 'PRC', t => t.toFixed(1));
  modelNames.forEach((n, i) => {
    const x = cX(i), y = 1075;
    ln(p, x, 1060.7, x, 1071, '#333333', 3, 'x-axis-tick');
    const t = tx(p, 0, 0, n, 32, '#4D4D4D', 'end', 'x-tick-label-' + n, 'translate(' + x + ' ' + y + ') rotate(-45)');
    t.setAttribute('dy', '0.72em');
  });
  tx(p, 3088, 542, 'Prediction performance (AUC)', 40.5, '#000', 'middle', 'y-axis-title', 'rotate(-90 3088 542)');
  tx(p, 3564, 1365, 'Models', 40, '#000', 'middle', 'x-axis-title');
})();

/* Panel D */
const gX = kb => 510 + (kb - 160) * 3.713;
const rowY = r => 1673.2 + r * 31.25;
const rad21Y = v => 2235 - v * 7.4;
(function(){
  const p = document.getElementById('panelD');
  const geneColor = '#0A32BE';
  [[118, 3903, 1641, 10, 'genes-track-band'], [118, 3984, 2120, 10, 'rad21-track-band'], [118, 3973, 2235, 10, 'ctcf-track-band'], [118, 3971, 2357, 10, 'measured-loops-track-band'], [118, 3955.5, 2770, 9, 'predicted-loops-track-band']].forEach(b => {
    rc(p, b[0], b[2], b[1] - b[0], b[3], '#E3E3E3', b[4]);
  });
  [['Chr11', 1588, 'chromosome-label'], ['Genes', 1681, 'genes-track-label'], ['Rad21', 2177, 'rad21-track-label'], ['CTCF motifs', 2296, 'ctcf-track-label'], ['Measured Loops', 2409, 'measured-loops-label'], ['Predicted loops', 2821, 'predicted-loops-label']].forEach(l => {
    const t = tx(p, 114, l[1], l[0], 45, '#000', 'start', l[2]);
    t.setAttribute('class', 'dj');
  });
  /* ruler */
  for (let kb = 140; kb <= 1080; kb += 10){
    const major = rulerMajor.indexOf(kb) >= 0;
    ln(p, gX(kb), major ? 1574 : 1582, gX(kb), 1588, '#000', 2.5, major ? 'ruler-major-tick' : 'ruler-minor-tick');
  }
  rulerMajor.forEach(kb => {
    const t = tx(p, gX(kb), 1568, String(kb * 1000), 22.5, '#000', 'middle', 'ruler-label');
    t.setAttribute('class', 'dj');
  });
  /* genes */
  ln(p, gX(132), 1662, gX(132), 1682, geneColor, 2, 'unlabelled-gene-mark');
  genes.forEach(g => {
    const name = g[0], cy = rowY(g[1]), x0 = gX(g[2]), x1 = gX(g[3]), strand = g[4], ex = exonPatterns[g[5]];
    const group = make(p, 'g', {});
    
    
    tx(group, x0 - 10, cy + 12, name, 26, geneColor, 'end', 'gene-label');
    if (x1 - x0 > 4) ln(group, x0, cy, name === 'MUC2' ? 4016 : x1, cy, geneColor, 4.2, 'gene-body');
    const blocks = ex.map(e => [x0 + e[0] * (x1 - x0), Math.max(3.4, e[1] * (x1 - x0))]);
    if (strand !== 0){
      for (let x = x0 + 11; x < x1 - 4; x += 21){
        if (blocks.some(b => x > b[0] - 3 && x < b[0] + b[1] + 3)) continue;
        const d = strand * 5.5;
        const c = make(group, 'polyline', {points: (x - d) + ',' + (cy - 10) + ' ' + (x + d) + ',' + cy + ' ' + (x - d) + ',' + (cy + 10), fill: 'none', stroke: geneColor, 'stroke-width': 3});
        
        
      }
    }
    blocks.forEach(b => {
      rc(group, b[0], cy - 14.5, b[1], 29, geneColor, 'exon');
    });
  });
  /* Rad21 signal */
  ln(p, 402.7, 2131, 402.7, 2236, '#000', 2.5, 'rad21-scale-axis');
  ln(p, 393, 2131, 402.7, 2131, '#000', 2.5, 'rad21-scale-cap');
  ln(p, 393, 2236, 402.7, 2236, '#000', 2.5, 'rad21-scale-cap');
  tx(p, 386, 2148, '14', 24, '#000', 'end', 'rad21-scale-max');
  tx(p, 386, 2234, '0', 24, '#000', 'end', 'rad21-scale-min');
  rc(p, gX(196), 2232.5, gX(1082) - gX(196), 2.5, '#0000DD', 'rad21-signal-baseline');
  rad21NoiseDigits.split('').forEach((d, i) => {
    const kb = 196 + i * 2.15, v = Number(d) * 0.24;
    if (kb > 1082) return;
    rc(p, gX(kb), rad21Y(v), 5.5, rad21Y(0) - rad21Y(v), '#0000DD', 'rad21-signal-bin');
  });
  rad21PeakKb.forEach((kb, i) => {
    rc(p, gX(kb) - 1.2, rad21Y(rad21PeakSignal[i]), 2.6, rad21Y(0) - rad21Y(rad21PeakSignal[i]), '#0000DD', 'rad21-peak');
  });
  /* CTCF motifs */
  const motifRows = [[ctcfRow1BlueKb, '#0000FF', 2239, 2268], [ctcfRow1RedKb, '#FF0000', 2239, 2268], [ctcfRow2BlueKb, '#0000FF', 2270.5, 2299], [ctcfRow2RedKb, '#FF0000', 2270.5, 2299], [ctcfRow3BlueKb, '#0000FF', 2302, 2330], [ctcfRow4BlueKb, '#0000FF', 2333, 2361]];
  motifRows.forEach(r => {
    r[0].forEach(kb => {
      ln(p, gX(kb), r[2], gX(kb), r[3], r[1], 2.6, 'ctcf-motif');
    });
  });
  /* loops */
  const loopY0 = 2361, predY0 = 2773, depthRatio = 0.208;
  measuredLoopStart.forEach((a, i) => {
    const e = make(p, 'path', {d: arcPath(gX(a), gX(measuredLoopEnd[i]), loopY0, depthRatio), fill: 'none', stroke: '#138313', 'stroke-width': 3.4});
    
    
  });
  predictedLoopStart.forEach((a, i) => {
    const e = make(p, 'path', {d: arcPath(gX(a), gX(predictedLoopEnd[i]), predY0, depthRatio), fill: 'none', stroke: '#0000CD', 'stroke-opacity': predictedLoopScore[i], 'stroke-width': 3.4});
    
    
  });
})();

/* Panel E */
const eX = i => 266 + i * 30.146;
const eY = v => 3871.9 - v * 1442.5;
(function(){
  const p = document.getElementById('panelE');
  eMinor.forEach(t => ln(p, 249, eY(t), 3992.5, eY(t), '#EBEBEB', 3.5, 'minor-gridline-y'));
  eTicks.forEach(t => ln(p, 249, eY(t), 3992.5, eY(t), '#EBEBEB', 5, 'major-gridline-y'));
  tfNames.forEach((n, i) => ln(p, eX(i), 3281, eX(i), 3898.5, '#EBEBEB', 4.5, 'major-gridline-x'));
  tfValues.forEach((v, i) => {
    rc(p, eX(i) - 13.6, eY(v), 27.2, eY(0) - eY(v), tfColors[i], 'bar-' + tfNames[i]);
  });
  tfValues.forEach((v, i) => {
    const x = eX(i), hi = eY(v + tfErrors[i]), lo = eY(v - tfErrors[i]);
    ln(p, x, hi, x, lo, '#000', 3.6, 'error-bar-stem');
    ln(p, x - 4, hi, x + 4, hi, '#000', 4, 'error-bar-cap');
    ln(p, x - 4, lo, x + 4, lo, '#000', 4, 'error-bar-cap');
  });
  frame(p, 249, 3281, 3743.5, 617.5, 'tf-panel-border');
  eTicks.forEach(t => {
    ln(p, 238, eY(t), 249, eY(t), '#333333', 3.5, 'y-axis-tick');
    tx(p, 228, eY(t) + 12, t.toFixed(1), 33, '#4D4D4D', 'end', 'y-tick-label');
  });
  tfNames.forEach((n, i) => {
    ln(p, eX(i), 3898.5, eX(i), 3913, '#333333', 3.5, 'x-axis-tick');
    const t = tx(p, 0, 0, n, 32, '#4D4D4D', 'end', 'x-tick-label-' + n, 'translate(' + (eX(i) + 6) + ' 3918) rotate(-58)');
    t.setAttribute('dy', '0.72em');
  });
  tx(p, 101, 3590, 'Prediction perfromance', 43, '#000', 'middle', 'y-axis-title-line-1', 'rotate(-90 101 3590)');
  tx(p, 147, 3590, '(AUC PRC)', 43, '#000', 'middle', 'y-axis-title-line-2', 'rotate(-90 147 3590)');
})();
</script>
</body>
</html>
